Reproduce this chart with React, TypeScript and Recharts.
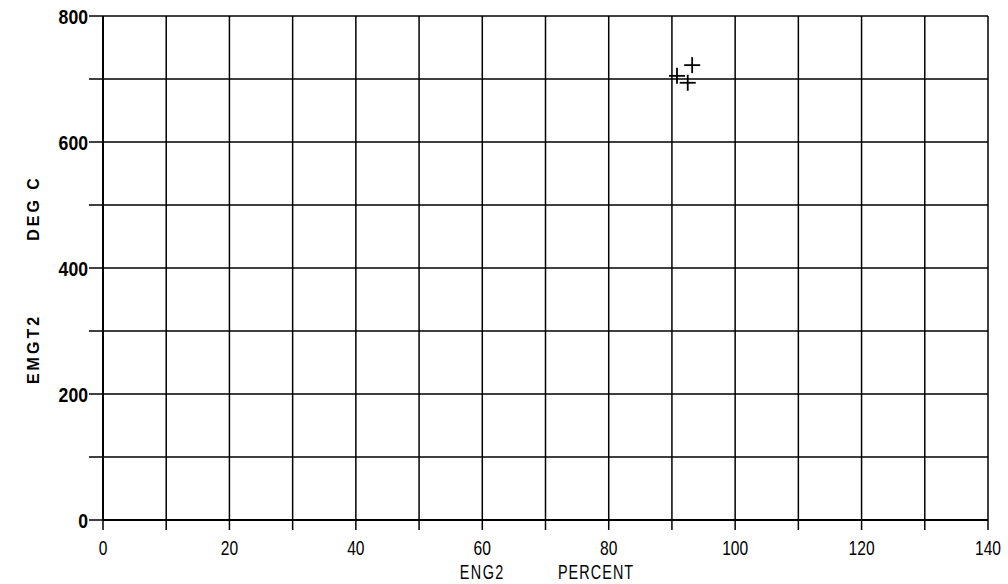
import React from "react";
import { ScatterChart, Scatter, XAxis, YAxis, CartesianGrid, Label } from "recharts";

const engPercent = [93.2, 90.8, 92.5];
const emgtDegC = [722, 705, 694];
const xTicks = [0, 10, 20, 30, 40, 50, 60, 70, 80, 90, 100, 110, 120, 130, 140];
const yTicks = [0, 100, 200, 300, 400, 500, 600, 700, 800];

const points = engPercent.map((x, i) => ({ x, y: emgtDegC[i] }));

const FONT = "'Liberation Sans', Arial, sans-serif";

const XTick = (props: any) => {
  const { x, y, payload } = props;
  if (payload.value % 20 !== 0) return null;
  return (
    <g transform={`translate(${x},${y + 23}) scale(0.78,1)`}>
      <text textAnchor="middle" fontFamily={FONT} fontSize={20} fill="#000">
        {payload.value}
      </text>
    </g>
  );
};

const YTick = (props: any) => {
  const { x, y, payload } = props;
  if (payload.value % 200 !== 0) return null;
  return (
    <g transform={`translate(${x},${y + 7.5}) scale(0.84,1)`}>
      <text textAnchor="end" fontFamily={FONT} fontWeight="bold" fontSize={21} fill="#000">
        {payload.value}
      </text>
    </g>
  );
};

const Plus = (props: any) => {
  const { cx, cy } = props;
  const h = 8;
  return (
    <g stroke="#000" strokeWidth={1.8}>
      <line x1={cx - h} y1={cy} x2={cx + h} y2={cy} />
      <line x1={cx} y1={cy - h} x2={cx} y2={cy + h} />
    </g>
  );
};

const XTitle = (props: any) => {
  const { viewBox } = props;
  const px = (v: number) => viewBox.x + (v / 140) * viewBox.width;
  return (
    <g fontFamily={FONT} fontSize={20} fill="#000">
      <g transform={`translate(${px(60)},579) scale(0.72,1)`}>
        <text textAnchor="middle" letterSpacing={2}>ENG2</text>
      </g>
      <g transform={`translate(${px(78)},579) scale(0.72,1)`}>
        <text textAnchor="middle" letterSpacing={1.5}>PERCENT</text>
      </g>
    </g>
  );
};

const YTitle = () => (
  <g fontFamily={FONT} fontSize={16} fontWeight="bold" fill="#000">
    <text transform="translate(39,349) rotate(-90)" textAnchor="middle" letterSpacing={3}>
      EMGT2
    </text>
    <text transform="translate(39,208) rotate(-90)" textAnchor="middle" letterSpacing={3}>
      DEG C
    </text>
  </g>
);

export default function App() {
  return (
    <div style={{ position: "absolute", left: 0, top: 0, background: "#fff" }}>
      <ScatterChart width={1008} height={584} margin={{ top: 16, right: 20, left: 0, bottom: 0 }}>
        <CartesianGrid stroke="#000" strokeWidth={1.5} />
        <XAxis
          type="number"
          dataKey="x"
          domain={[0, 140]}
          ticks={xTicks}
          interval={0}
          height={64}
          tickSize={10}
          tick={<XTick />}
          axisLine={{ stroke: "#000", strokeWidth: 2 }}
          tickLine={{ stroke: "#000", strokeWidth: 1.5 }}
        >
          <Label content={<XTitle />} />
        </XAxis>
        <YAxis
          type="number"
          dataKey="y"
          domain={[0, 800]}
          ticks={yTicks}
          interval={0}
          width={103}
          tickSize={14}
          tickMargin={1}
          tick={<YTick />}
          axisLine={{ stroke: "#000", strokeWidth: 2 }}
          tickLine={{ stroke: "#000", strokeWidth: 1.5 }}
        >
          <Label content={<YTitle />} />
        </YAxis>
        <Scatter data={points} shape={<Plus />} isAnimationActive={false} />
      </ScatterChart>
    </div>
  );
}
